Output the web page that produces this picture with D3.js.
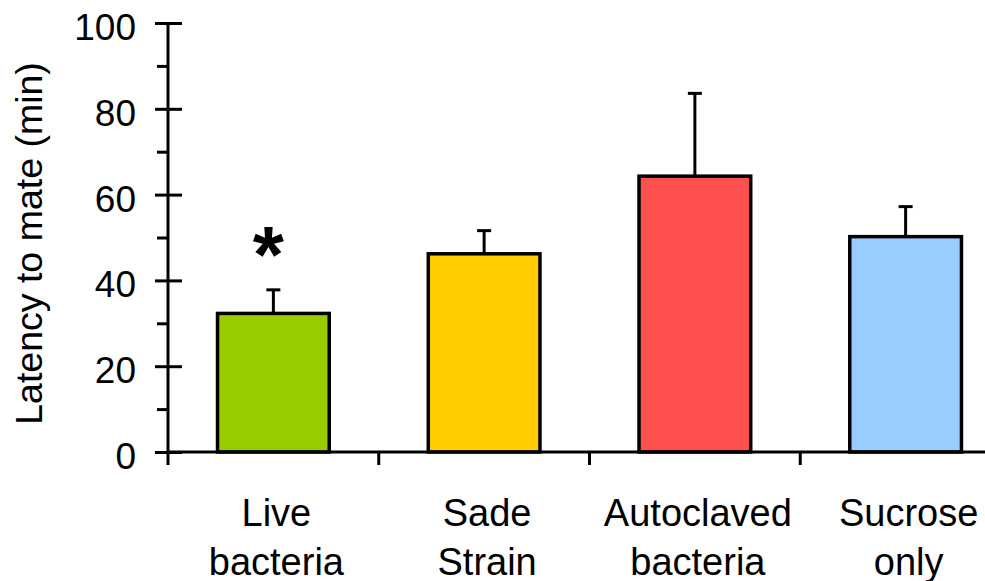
<!DOCTYPE html>
<html>
<head>
<meta charset="utf-8">
<script src="https://cdn.jsdelivr.net/npm/d3@7"></script>
<style>
  html, body { margin: 0; padding: 0; background: #fff; }
  svg { display: block; }
  text { font-family: "Liberation Sans", Arial, sans-serif; fill: #000; }
</style>
</head>
<body>
<svg id="chart" width="985" height="581"></svg>
<script>
const categories = ["Live bacteria", "Sade Strain", "Autoclaved bacteria", "Sucrose only"];
const means = [32.3, 46.2, 64.3, 50.2];
const errors = [5.5, 5.4, 19.3, 7.0];
const colors = ["#99CC00", "#FFCC00", "#FF5050", "#99CCFF"];
const significance = ["*", "", "", ""];
const yTicks = [0, 20, 40, 60, 80, 100];
const yMinorTicks = [10, 30, 50, 70, 90];
const yTitle = "Latency to mate (min)";

const svg = d3.select("#chart");

const x = d3.scaleBand().domain(categories).range([168, 1011])
  .paddingInner(0.47).paddingOuter(0.235);
const y = d3.scaleLinear().domain([0, 100]).range([452, 23]);

const data = categories.map((c, i) => ({c, m: means[i], e: errors[i], col: colors[i], sig: significance[i]}));

// bars
svg.append("g").selectAll("rect").data(data).join("rect")
  .attr("x", d => x(d.c))
  .attr("y", d => y(d.m))
  .attr("width", x.bandwidth())
  .attr("height", d => y(0) - y(d.m))
  .attr("fill", d => d.col)
  .attr("stroke", "#000")
  .attr("stroke-width", 3.5);

// error bars
const eg = svg.append("g").attr("stroke", "#000").attr("stroke-width", 3);
eg.selectAll("line.v").data(data).join("line").attr("class", "v")
  .attr("x1", d => x(d.c) + x.bandwidth() / 2)
  .attr("x2", d => x(d.c) + x.bandwidth() / 2)
  .attr("y1", d => y(d.m))
  .attr("y2", d => y(d.m + d.e));
eg.selectAll("line.cap").data(data).join("line").attr("class", "cap")
  .attr("x1", d => x(d.c) + x.bandwidth() / 2 - 7)
  .attr("x2", d => x(d.c) + x.bandwidth() / 2 + 7)
  .attr("y1", d => y(d.m + d.e))
  .attr("y2", d => y(d.m + d.e));

// significance markers
svg.append("g").selectAll("text").data(data.filter(d => d.sig)).join("text")
  .attr("x", d => x(d.c) + x.bandwidth() / 2 - 5)
  .attr("y", d => y(d.m + d.e) - 8)
  .attr("text-anchor", "middle")
  .style("font-size", "80px")
  .style("font-weight", "bold")
  .text(d => d.sig);

// y axis
const yAxisG = svg.append("g").attr("transform", "translate(168,0)");
yAxisG.call(d3.axisLeft(y).tickValues(yTicks).tickSizeInner(13).tickSizeOuter(0).tickFormat(d3.format("d")));
yAxisG.select(".domain").remove();
yAxisG.selectAll(".tick line").attr("x1", 14).attr("x2", -13).attr("stroke", "#000").attr("stroke-width", 3);
yAxisG.selectAll(".tick text")
  .attr("x", -32).attr("dy", 0).attr("y", 16.5)
  .style("font-size", "37px")
  .style("font-family", "'Liberation Sans', Arial, sans-serif")
  .attr("fill", "#000");

const yMinorG = svg.append("g").attr("transform", "translate(168,0)");
yMinorG.call(d3.axisLeft(y).tickValues(yMinorTicks).tickSize(11).tickFormat(""));
yMinorG.select(".domain").remove();
yMinorG.selectAll(".tick line").attr("stroke", "#000").attr("stroke-width", 3);

// y axis line
svg.append("line")
  .attr("x1", 168).attr("x2", 168)
  .attr("y1", y(100)).attr("y2", y(0) + 13)
  .attr("stroke", "#000").attr("stroke-width", 3);

// x axis line
svg.append("line")
  .attr("x1", x.range()[0]).attr("x2", x.range()[1])
  .attr("y1", y(0)).attr("y2", y(0))
  .attr("stroke", "#000").attr("stroke-width", 3);

// x ticks at band boundaries
const bounds = d3.range(1, categories.length).map(i => x.range()[0] + i * x.step());
svg.append("g").selectAll("line").data(bounds).join("line")
  .attr("x1", d => d).attr("x2", d => d)
  .attr("y1", y(0)).attr("y2", y(0) + 13)
  .attr("stroke", "#000").attr("stroke-width", 3);

// x labels
const xl = svg.append("g").selectAll("text").data(categories).join("text")
  .attr("text-anchor", "middle")
  .style("font-size", "38px");
xl.each(function(c) {
  const words = c.split(" ");
  const t = d3.select(this);
  words.forEach((w, i) => {
    t.append("tspan")
      .attr("x", x(c) + x.bandwidth() / 2 + 3)
      .attr("y", 526 + i * 49)
      .text(w);
  });
});

// y title
svg.append("text")
  .attr("transform", "translate(42," + 243.5 + ") rotate(-90)")
  .attr("text-anchor", "middle")
  .style("font-size", "37.5px")
  .text(yTitle);
</script>
</body>
</html>
